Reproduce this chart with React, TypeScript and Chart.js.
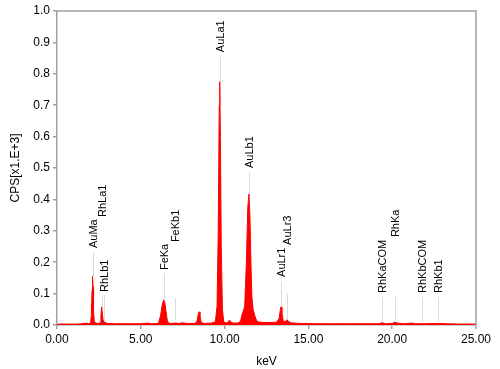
import React, { useEffect, useRef } from "react";
import { Chart, registerables } from "chart.js";

Chart.register(...registerables);

const energies = [
  0.0, 0.3, 0.8, 1.2, 1.5, 1.75, 1.9, 2.0, 2.05, 2.09, 2.12, 2.15, 2.18, 2.22, 2.3, 2.5, 2.58, 2.62, 2.67, 2.71,
  2.75, 2.82, 2.9, 3.0, 3.5, 4.0, 4.5, 5.0, 5.4, 5.6, 6.0, 6.08, 6.18, 6.28, 6.36, 6.42, 6.5, 6.58, 6.65, 6.8,
  7.06, 7.3, 7.45, 7.6, 7.8, 8.2, 8.35, 8.43, 8.48, 8.53, 8.6, 8.8, 9.2, 9.45, 9.55, 9.62, 9.68, 9.71, 9.75, 9.8,
  9.87, 9.95, 10.1, 10.22, 10.29, 10.36, 10.5, 10.8, 10.95, 11.05, 11.12, 11.2, 11.3, 11.38, 11.45, 11.51, 11.57,
  11.63, 11.7, 11.8, 11.9, 12.0, 12.3, 12.7, 13.1, 13.25, 13.33, 13.37, 13.42, 13.5, 13.62, 13.72, 13.8, 13.95,
  14.5, 15.5, 16.5, 17.5, 18.5, 19.2, 19.4, 19.6, 20.0, 20.15, 20.3, 20.7, 21.15, 21.4, 22.0, 22.75, 23.2, 24.0,
  25.0,
];
const counts = [
  0.002, 0.003, 0.003, 0.003, 0.004, 0.006, 0.004, 0.006, 0.03, 0.11, 0.155, 0.12, 0.05, 0.012, 0.006, 0.005,
  0.008, 0.03, 0.057, 0.035, 0.015, 0.012, 0.007, 0.005, 0.004, 0.004, 0.004, 0.004, 0.006, 0.004, 0.005, 0.01,
  0.03, 0.065, 0.08, 0.075, 0.045, 0.015, 0.006, 0.005, 0.006, 0.005, 0.007, 0.006, 0.005, 0.005, 0.01, 0.035,
  0.042, 0.03, 0.008, 0.005, 0.006, 0.01, 0.06, 0.3, 0.7, 0.775, 0.6, 0.25, 0.05, 0.01, 0.006, 0.01, 0.016, 0.01,
  0.006, 0.006, 0.012, 0.035, 0.045, 0.06, 0.2, 0.37, 0.417, 0.35, 0.2, 0.09, 0.05, 0.03, 0.015, 0.01, 0.008,
  0.008, 0.009, 0.02, 0.05, 0.058, 0.04, 0.012, 0.01, 0.017, 0.012, 0.007, 0.005, 0.004, 0.004, 0.004, 0.004,
  0.004, 0.007, 0.004, 0.005, 0.009, 0.006, 0.004, 0.006, 0.004, 0.004, 0.005, 0.004, 0.003, 0.003,
];

// Peak markers: name, energy, marker line from/to (CPS), text start (CPS)
const peakNames = ["AuMa", "RhLa1", "RhLb1", "FeKa", "FeKb1", "AuLa1", "AuLb1", "AuLr1", "AuLr3", "RhKaCOM", "RhKa", "RhKbCOM", "RhKb1"];
const peakEnergies = [2.12, 2.69, 2.83, 6.4, 7.06, 9.71, 11.45, 13.38, 13.75, 19.41, 20.17, 21.76, 22.75];
const lineFrom = [0.155, 0.057, 0.01, 0.08, 0.016, 0.775, 0.417, 0.058, 0.016, 0.01, 0.01, 0.01, 0.01];
const lineTo = [0.232, 0.095, 0.095, 0.165, 0.086, 0.853, 0.487, 0.137, 0.102, 0.089, 0.089, 0.089, 0.089];
const textStart = [0.245, 0.344, 0.105, 0.175, 0.264, 0.869, 0.5, 0.153, 0.255, 0.102, 0.28, 0.102, 0.102];

const xTicks = [0, 5, 10, 15, 20, 25];

const frame = {
  id: "frame",
  afterDraw(chart: any) {
    const { ctx, chartArea } = chart;
    ctx.save();
    ctx.strokeStyle = "#a0a0a0";
    ctx.lineWidth = 1.5;
    ctx.beginPath();
    ctx.moveTo(chartArea.left, chartArea.top);
    ctx.lineTo(chartArea.right, chartArea.top);
    ctx.lineTo(chartArea.right, chartArea.bottom);
    ctx.stroke();
    ctx.restore();
  },
};

const peakLabels = {
  id: "peakLabels",
  afterDatasetsDraw(chart: any) {
    const { ctx } = chart;
    const xs = chart.scales.x;
    const ys = chart.scales.y;
    ctx.save();
    for (let i = 0; i < peakNames.length; i++) {
      const px = Math.round(xs.getPixelForValue(peakEnergies[i])) + 0.5;
      ctx.strokeStyle = "#dcdcdc";
      ctx.lineWidth = 1;
      ctx.beginPath();
      ctx.moveTo(px, ys.getPixelForValue(lineFrom[i]));
      ctx.lineTo(px, ys.getPixelForValue(lineTo[i]));
      ctx.stroke();
      const ty = ys.getPixelForValue(textStart[i]);
      ctx.save();
      ctx.translate(px, ty);
      ctx.rotate(-Math.PI / 2);
      ctx.fillStyle = "#000";
      ctx.font = "11px 'Liberation Sans', Arial, sans-serif";
      ctx.textAlign = "left";
      ctx.textBaseline = "middle";
      ctx.fillText(peakNames[i], 0, 0);
      ctx.restore();
    }
    ctx.restore();
  },
};

export default function App() {
  const ref = useRef<HTMLCanvasElement>(null);
  useEffect(() => {
    if (!ref.current) return;
    const font = { family: "'Liberation Sans', Arial, sans-serif", size: 12 };
    const chart = new Chart(ref.current, {
      type: "line",
      data: {
        datasets: [
          {
            data: energies.map((e, i) => ({ x: e, y: counts[i] })),
            borderColor: "#ff0000",
            backgroundColor: "#ff0000",
            borderWidth: 1,
            pointRadius: 0,
            fill: "origin",
            tension: 0,
          },
        ],
      },
      options: {
        animation: false,
        responsive: false,
        maintainAspectRatio: false,
        layout: { padding: { left: 0, right: 24, top: 11, bottom: 0 } },
        plugins: { legend: { display: false }, tooltip: { enabled: false } },
        scales: {
          x: {
            type: "linear",
            min: 0,
            max: 25,
            afterBuildTicks: (s: any) => {
              s.ticks = xTicks.map((v) => ({ value: v }));
            },
            afterFit: (s: any) => {
              s.height = 44;
            },
            ticks: {
              color: "#000",
              font,
              padding: 3,
              maxRotation: 0,
              callback: (v: any) => Number(v).toFixed(2),
            },
            grid: { drawOnChartArea: false, tickLength: 4, color: "#a0a0a0", lineWidth: 1.5 },
            border: { color: "#a0a0a0", width: 1.5 },
            title: { display: true, text: "keV", color: "#000", font, padding: { top: 1, bottom: 0 } },
          },
          y: {
            min: 0,
            max: 1,
            afterFit: (s: any) => {
              s.width = 57;
            },
            ticks: {
              color: "#000",
              font,
              padding: 3,
              stepSize: 0.1,
              callback: (v: any) => Number(v).toFixed(1),
            },
            grid: { drawOnChartArea: false, tickLength: 4, color: "#a0a0a0", lineWidth: 1.5 },
            border: { color: "#a0a0a0", width: 1.5 },
            title: { display: true, text: "CPS[x1.E+3]", color: "#000", font, padding: { top: 8, bottom: 0 } },
          },
        },
      },
      plugins: [peakLabels, frame],
    } as any);
    return () => chart.destroy();
  }, []);
  return (
    <div style={{ position: "fixed", left: 0, top: 0, width: 500, height: 369, background: "#fff" }}>
      <canvas ref={ref} width={500} height={369} style={{ width: 500, height: 369 }} />
    </div>
  );
}
